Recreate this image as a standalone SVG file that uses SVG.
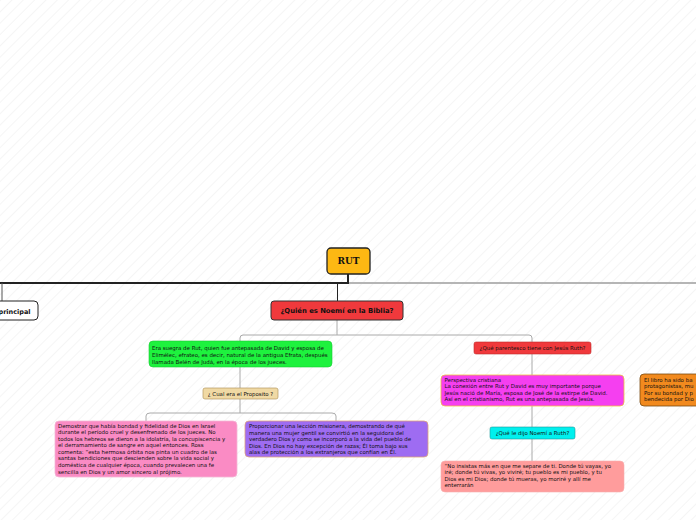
<svg xmlns="http://www.w3.org/2000/svg" width="696" height="520" viewBox="0 0 696 520">
<defs>
<pattern id="hatch" width="8" height="8" patternUnits="userSpaceOnUse" patternTransform="rotate(45)">
<line x1="0" y1="0" x2="0" y2="8" stroke="#ececec" stroke-width="1"/>
</pattern>
</defs>
<style>
.t{font-family:"DejaVu Sans","Verdana",sans-serif;font-size:5.45px;fill:#111}
.b{font-family:"DejaVu Sans","Verdana",sans-serif;font-weight:bold;fill:#111}
.c{fill:none;stroke:#aaaaaa;stroke-width:1}
</style>
<rect width="696" height="520" fill="#ffffff"/>
<rect width="696" height="520" fill="url(#hatch)"/>
<g id="connectors">
<path d="M348,274 V283" fill="none" stroke="#222" stroke-width="2"/>
<path d="M-5,283 H349" fill="none" stroke="#222" stroke-width="2"/>
<path d="M349,283 H700" fill="none" stroke="#b5b5b5" stroke-width="2"/>
<path d="M337.5,283 V301" fill="none" stroke="#222" stroke-width="1"/>
<path d="M2,283 V301" fill="none" stroke="#555" stroke-width="1"/>
<path class="c" d="M337,320 V335"/>
<path class="c" d="M240,341 V338 Q240,335 243,335 H529 Q532,335 532,338 V342"/>
<path class="c" d="M240,367 V388"/>
<path class="c" d="M240,399 V413"/>
<path class="c" d="M146,421 V416 Q146,413 150,413 H332 Q336,413 336,416 V421"/>
<path class="c" d="M532,354 V375"/>
<path class="c" d="M532,406 V427"/>
<path class="c" d="M532,439 V461"/>
</g>
<g id="rut">
<rect x="327" y="248" width="43" height="26" rx="4" fill="#FDB813" stroke="#222" stroke-width="1.3"/>
<text x="348.5" y="264" text-anchor="middle" font-family="'DejaVu Serif',serif" font-weight="bold" font-size="9" fill="#111">RUT</text>
</g>
<g id="principal">
<rect x="-20" y="301" width="58" height="19" rx="4" fill="#ffffff" stroke="#222" stroke-width="1"/>
<text class="b" x="-1.5" y="313.5" font-size="6.5">principal</text>
</g>
<g id="quien">
<rect x="271" y="301" width="132" height="19" rx="3" fill="#F0393C" stroke="#333" stroke-width="1"/>
<text class="b" x="337" y="313" text-anchor="middle" font-size="6.8">¿Quién es Noemí en la Biblia?</text>
</g>
<g id="suegra">
<rect x="149" y="341" width="183" height="26" rx="4" fill="#1EF23E" stroke="#17c932" stroke-width="0.6"/>
<text class="t" x="152" y="350">Era suegra de Rut, quien fue antepasada de David y esposa de</text>
<text class="t" x="152" y="357">Elimélec, efrateo, es decir, natural de la antigua Efrata, después</text>
<text class="t" x="152" y="364">llamada Belén de Judá, en la época de los jueces.</text>
</g>
<g id="parentesco">
<rect x="474" y="342" width="117" height="12" rx="2" fill="#F0393C" stroke="#c02a2a" stroke-width="0.6"/>
<text class="t" x="532.5" y="350" text-anchor="middle">¿Qué parentesco tiene con Jesús Ruth?</text>
</g>
<g id="proposito">
<rect x="203" y="388" width="75" height="11" rx="2" fill="#F0D9A4" stroke="#b49a62" stroke-width="0.7"/>
<text class="t" x="240.5" y="395.5" text-anchor="middle">¿ Cual era el Proposito ?</text>
</g>
<g id="demostrar">
<rect x="55" y="421" width="182" height="56" rx="4" fill="#FA8BC4" stroke="#f4b8d6" stroke-width="0.8"/>
<text class="t" x="58" y="427.5">Demostrar que había bondad y fidelidad de Dios en Israel</text>
<text class="t" x="58" y="434">durante el período cruel y desenfrenado de los jueces. No</text>
<text class="t" x="58" y="440.6">todos los hebreos se dieron a la idolatría, la concupiscencia y</text>
<text class="t" x="58" y="447.2">el derramamiento de sangre en aquel entonces. Ross</text>
<text class="t" x="58" y="453.8">comenta: “esta hermosa órbita nos pinta un cuadro de las</text>
<text class="t" x="58" y="460.4">santas bendiciones que descienden sobre la vida social y</text>
<text class="t" x="58" y="467">doméstica de cualquier época, cuando prevalecen una fe</text>
<text class="t" x="58" y="473.6">sencilla en Dios y un amor sincero al prójimo.</text>
</g>
<g id="proporcionar">
<rect x="245" y="421" width="183" height="36" rx="4" fill="#9E6CF2" stroke="#e0a57a" stroke-width="0.8"/>
<text class="t" x="249" y="428">Proporcionar una lección misionera, demostrando de qué</text>
<text class="t" x="249" y="434.5">manera una mujer gentil se convirtió en la seguidora del</text>
<text class="t" x="249" y="441">verdadero Dios y como se incorporó a la vida del pueblo de</text>
<text class="t" x="249" y="447.5">Dios. En Dios no hay excepción de razas; Él toma bajo sus</text>
<text class="t" x="249" y="454">alas de protección a los extranjeros que confían en Él.</text>
</g>
<g id="perspectiva">
<rect x="441" y="375" width="183" height="31" rx="4" fill="#F53FF0" stroke="#f0c040" stroke-width="0.8"/>
<text class="t" x="444.5" y="382">Perspectiva cristiana</text>
<text class="t" x="444.5" y="388.4">La conexión entre Rut y David es muy importante porque</text>
<text class="t" x="444.5" y="394.8">Jesús nació de María, esposa de José de la estirpe de David.</text>
<text class="t" x="444.5" y="401.2">Así en el cristianismo, Rut es una antepasada de Jesús.</text>
</g>
<g id="dijo">
<rect x="490" y="427" width="85" height="12" rx="2" fill="#00F0EE" stroke="#1a9a9a" stroke-width="0.6"/>
<text class="t" x="532.5" y="435" text-anchor="middle">¿Qué le dijo Noemí a Ruth?</text>
</g>
<g id="insistas">
<rect x="441" y="461" width="183" height="31" rx="4" fill="#FF9C9C" stroke="#f6b0b0" stroke-width="0.6"/>
<text class="t" x="444.5" y="467.8">“No insistas más en que me separe de ti. Donde tú vayas, yo</text>
<text class="t" x="444.5" y="474.3">iré; donde tú vivas, yo viviré; tu pueblo es mi pueblo, y tu</text>
<text class="t" x="444.5" y="480.8">Dios es mi Dios; donde tú mueras, yo moriré y allí me</text>
<text class="t" x="444.5" y="487.3">enterrarán</text>
</g>
<g id="libro">
<rect x="640" y="374" width="70" height="32" rx="4" fill="#F28A1E" stroke="#7a4a10" stroke-width="0.8"/>
<text class="t" x="644" y="381.8">El libro ha sido ba</text>
<text class="t" x="644" y="388.2">protagonistas, mu</text>
<text class="t" x="644" y="394.6">Por su bondad y p</text>
<text class="t" x="644" y="401">bendecida por Dio</text>
</g>
</svg>
